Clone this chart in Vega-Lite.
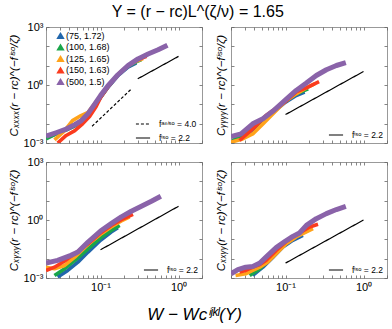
{
"$schema": "https://vega.github.io/schema/vega-lite/v6.json",
"background": "white",
"padding": {"left": 7, "right": 1, "top": 3, "bottom": 2},
"title": {"text": "Y = (r − rᴄ)L^(ζ/ν) = 1.65", "fontSize": 16, "fontWeight": "normal", "font": "Liberation Sans", "anchor": "middle", "frame": "bounds", "offset": 1, "color": "black"},
"datasets": {
"curves": [
{"p":"xxxx","s":"(75, 1.72)","x":0.02,"y":0.00182},{"p":"xxxx","s":"(75, 1.72)","x":0.0269,"y":0.00295},{"p":"xxxx","s":"(75, 1.72)","x":0.0363,"y":0.00479},{"p":"xxxx","s":"(75, 1.72)","x":0.0468,"y":0.00776},{"p":"xxxx","s":"(75, 1.72)","x":0.0589,"y":0.01445},{"p":"xxxx","s":"(75, 1.72)","x":0.0759,"y":0.0427},{"p":"xxxx","s":"(75, 1.72)","x":0.1,"y":0.224},{"p":"xxxx","s":"(75, 1.72)","x":0.124,"y":0.741},{"p":"xxxx","s":"(75, 1.72)","x":0.167,"y":3.09},{"p":"xxxx","s":"(75, 1.72)","x":0.225,"y":8.51},{"p":"xxxx","s":"(75, 1.72)","x":0.288,"y":14.1},
{"p":"xxxx","s":"(100, 1.68)","x":0.02,"y":0.00162},{"p":"xxxx","s":"(100, 1.68)","x":0.0269,"y":0.00295},{"p":"xxxx","s":"(100, 1.68)","x":0.0363,"y":0.00479},{"p":"xxxx","s":"(100, 1.68)","x":0.0468,"y":0.00794},{"p":"xxxx","s":"(100, 1.68)","x":0.0589,"y":0.01585},{"p":"xxxx","s":"(100, 1.68)","x":0.0759,"y":0.0437},{"p":"xxxx","s":"(100, 1.68)","x":0.1,"y":0.234},{"p":"xxxx","s":"(100, 1.68)","x":0.124,"y":0.776},{"p":"xxxx","s":"(100, 1.68)","x":0.167,"y":3.39},{"p":"xxxx","s":"(100, 1.68)","x":0.225,"y":9.12},{"p":"xxxx","s":"(100, 1.68)","x":0.302,"y":17.4},{"p":"xxxx","s":"(100, 1.68)","x":0.334,"y":20.4},
{"p":"xxxx","s":"(125, 1.65)","x":0.0257,"y":0.00145},{"p":"xxxx","s":"(125, 1.65)","x":0.0347,"y":0.00437},{"p":"xxxx","s":"(125, 1.65)","x":0.0437,"y":0.01445},{"p":"xxxx","s":"(125, 1.65)","x":0.0562,"y":0.0263},{"p":"xxxx","s":"(125, 1.65)","x":0.0692,"y":0.0389},{"p":"xxxx","s":"(125, 1.65)","x":0.0838,"y":0.1047},{"p":"xxxx","s":"(125, 1.65)","x":0.1,"y":0.257},{"p":"xxxx","s":"(125, 1.65)","x":0.124,"y":0.851},{"p":"xxxx","s":"(125, 1.65)","x":0.167,"y":3.47},{"p":"xxxx","s":"(125, 1.65)","x":0.225,"y":10.2},{"p":"xxxx","s":"(125, 1.65)","x":0.302,"y":18.6},{"p":"xxxx","s":"(125, 1.65)","x":0.351,"y":23.4},
{"p":"xxxx","s":"(150, 1.63)","x":0.0282,"y":0.001},{"p":"xxxx","s":"(150, 1.63)","x":0.0363,"y":0.00245},{"p":"xxxx","s":"(150, 1.63)","x":0.0468,"y":0.00437},{"p":"xxxx","s":"(150, 1.63)","x":0.0589,"y":0.00977},{"p":"xxxx","s":"(150, 1.63)","x":0.0724,"y":0.0234},{"p":"xxxx","s":"(150, 1.63)","x":0.0879,"y":0.0776},{"p":"xxxx","s":"(150, 1.63)","x":0.1,"y":0.219},{"p":"xxxx","s":"(150, 1.63)","x":0.124,"y":0.776},{"p":"xxxx","s":"(150, 1.63)","x":0.167,"y":3.47},{"p":"xxxx","s":"(150, 1.63)","x":0.225,"y":10.2},{"p":"xxxx","s":"(150, 1.63)","x":0.302,"y":20.4},{"p":"xxxx","s":"(150, 1.63)","x":0.389,"y":30.2},
{"p":"xxxx","s":"(500, 1.5)","x":0.02,"y":0.00224},{"p":"xxxx","s":"(500, 1.5)","x":0.0269,"y":0.00339},{"p":"xxxx","s":"(500, 1.5)","x":0.0363,"y":0.00525},{"p":"xxxx","s":"(500, 1.5)","x":0.0468,"y":0.00891},{"p":"xxxx","s":"(500, 1.5)","x":0.0569,"y":0.01445},{"p":"xxxx","s":"(500, 1.5)","x":0.0692,"y":0.0331},{"p":"xxxx","s":"(500, 1.5)","x":0.0838,"y":0.1},{"p":"xxxx","s":"(500, 1.5)","x":0.1,"y":0.282},{"p":"xxxx","s":"(500, 1.5)","x":0.124,"y":0.891},{"p":"xxxx","s":"(500, 1.5)","x":0.167,"y":3.39},{"p":"xxxx","s":"(500, 1.5)","x":0.225,"y":10},{"p":"xxxx","s":"(500, 1.5)","x":0.302,"y":22.4},{"p":"xxxx","s":"(500, 1.5)","x":0.407,"y":39.8},{"p":"xxxx","s":"(500, 1.5)","x":0.547,"y":66.1},{"p":"xxxx","s":"(500, 1.5)","x":0.721,"y":115},

{"p":"yyyy","s":"(75, 1.72)","x":0.0209,"y":0.00123},{"p":"yyyy","s":"(75, 1.72)","x":0.0309,"y":0.0024},{"p":"yyyy","s":"(75, 1.72)","x":0.0468,"y":0.0105},{"p":"yyyy","s":"(75, 1.72)","x":0.0692,"y":0.0389},{"p":"yyyy","s":"(75, 1.72)","x":0.1,"y":0.129},{"p":"yyyy","s":"(75, 1.72)","x":0.137,"y":0.288},{"p":"yyyy","s":"(75, 1.72)","x":0.176,"y":0.427},
{"p":"yyyy","s":"(100, 1.68)","x":0.0209,"y":0.00132},{"p":"yyyy","s":"(100, 1.68)","x":0.0309,"y":0.00295},{"p":"yyyy","s":"(100, 1.68)","x":0.0468,"y":0.012},{"p":"yyyy","s":"(100, 1.68)","x":0.0692,"y":0.0447},{"p":"yyyy","s":"(100, 1.68)","x":0.1,"y":0.145},{"p":"yyyy","s":"(100, 1.68)","x":0.137,"y":0.347},{"p":"yyyy","s":"(100, 1.68)","x":0.195,"y":0.631},
{"p":"yyyy","s":"(125, 1.65)","x":0.02,"y":0.0011},{"p":"yyyy","s":"(125, 1.65)","x":0.0282,"y":0.00162},{"p":"yyyy","s":"(125, 1.65)","x":0.038,"y":0.00295},{"p":"yyyy","s":"(125, 1.65)","x":0.0513,"y":0.00977},{"p":"yyyy","s":"(125, 1.65)","x":0.0692,"y":0.0324},{"p":"yyyy","s":"(125, 1.65)","x":0.1,"y":0.145},{"p":"yyyy","s":"(125, 1.65)","x":0.137,"y":0.347},{"p":"yyyy","s":"(125, 1.65)","x":0.185,"y":0.708},{"p":"yyyy","s":"(125, 1.65)","x":0.236,"y":1.15},
{"p":"yyyy","s":"(150, 1.63)","x":0.0257,"y":0.00135},{"p":"yyyy","s":"(150, 1.63)","x":0.038,"y":0.00537},{"p":"yyyy","s":"(150, 1.63)","x":0.0562,"y":0.0263},{"p":"yyyy","s":"(150, 1.63)","x":0.0759,"y":0.0631},{"p":"yyyy","s":"(150, 1.63)","x":0.1,"y":0.141},{"p":"yyyy","s":"(150, 1.63)","x":0.137,"y":0.437},{"p":"yyyy","s":"(150, 1.63)","x":0.185,"y":0.708},{"p":"yyyy","s":"(150, 1.63)","x":0.269,"y":1.48},
{"p":"yyyy","s":"(500, 1.5)","x":0.02,"y":0.00214},{"p":"yyyy","s":"(500, 1.5)","x":0.0269,"y":0.00295},{"p":"yyyy","s":"(500, 1.5)","x":0.038,"y":0.00977},{"p":"yyyy","s":"(500, 1.5)","x":0.0513,"y":0.0178},{"p":"yyyy","s":"(500, 1.5)","x":0.0692,"y":0.0447},{"p":"yyyy","s":"(500, 1.5)","x":0.1,"y":0.17},{"p":"yyyy","s":"(500, 1.5)","x":0.137,"y":0.525},{"p":"yyyy","s":"(500, 1.5)","x":0.185,"y":1.26},{"p":"yyyy","s":"(500, 1.5)","x":0.248,"y":3.09},{"p":"yyyy","s":"(500, 1.5)","x":0.334,"y":6.17},{"p":"yyyy","s":"(500, 1.5)","x":0.449,"y":10.2},{"p":"yyyy","s":"(500, 1.5)","x":0.593,"y":14.5},

{"p":"xyxy","s":"(75, 1.72)","x":0.0282,"y":0.00112},{"p":"xyxy","s":"(75, 1.72)","x":0.038,"y":0.00245},{"p":"xyxy","s":"(75, 1.72)","x":0.0513,"y":0.00661},{"p":"xyxy","s":"(75, 1.72)","x":0.0692,"y":0.0219},{"p":"xyxy","s":"(75, 1.72)","x":0.1,"y":0.0891},{"p":"xyxy","s":"(75, 1.72)","x":0.137,"y":0.24},{"p":"xyxy","s":"(75, 1.72)","x":0.167,"y":0.398},
{"p":"xyxy","s":"(100, 1.68)","x":0.0257,"y":0.00135},{"p":"xyxy","s":"(100, 1.68)","x":0.0347,"y":0.00302},{"p":"xyxy","s":"(100, 1.68)","x":0.0468,"y":0.00813},{"p":"xyxy","s":"(100, 1.68)","x":0.0692,"y":0.0324},{"p":"xyxy","s":"(100, 1.68)","x":0.1,"y":0.12},{"p":"xyxy","s":"(100, 1.68)","x":0.137,"y":0.288},{"p":"xyxy","s":"(100, 1.68)","x":0.176,"y":0.525},
{"p":"xyxy","s":"(125, 1.65)","x":0.02,"y":0.00363},{"p":"xyxy","s":"(125, 1.65)","x":0.0257,"y":0.00302},{"p":"xyxy","s":"(125, 1.65)","x":0.0347,"y":0.00447},{"p":"xyxy","s":"(125, 1.65)","x":0.0468,"y":0.012},{"p":"xyxy","s":"(125, 1.65)","x":0.0692,"y":0.055},{"p":"xyxy","s":"(125, 1.65)","x":0.1,"y":0.182},{"p":"xyxy","s":"(125, 1.65)","x":0.137,"y":0.437},{"p":"xyxy","s":"(125, 1.65)","x":0.185,"y":0.891},{"p":"xyxy","s":"(125, 1.65)","x":0.236,"y":1.45},
{"p":"xyxy","s":"(150, 1.63)","x":0.02,"y":0.00245},{"p":"xyxy","s":"(150, 1.63)","x":0.0257,"y":0.00363},{"p":"xyxy","s":"(150, 1.63)","x":0.0347,"y":0.00759},{"p":"xyxy","s":"(150, 1.63)","x":0.0468,"y":0.0182},{"p":"xyxy","s":"(150, 1.63)","x":0.0692,"y":0.0589},{"p":"xyxy","s":"(150, 1.63)","x":0.1,"y":0.214},{"p":"xyxy","s":"(150, 1.63)","x":0.137,"y":0.525},{"p":"xyxy","s":"(150, 1.63)","x":0.185,"y":1.047},{"p":"xyxy","s":"(150, 1.63)","x":0.261,"y":1.95},
{"p":"xyxy","s":"(500, 1.5)","x":0.02,"y":0.00589},{"p":"xyxy","s":"(500, 1.5)","x":0.0282,"y":0.00813},{"p":"xyxy","s":"(500, 1.5)","x":0.0417,"y":0.0148},{"p":"xyxy","s":"(500, 1.5)","x":0.0513,"y":0.0219},{"p":"xyxy","s":"(500, 1.5)","x":0.0692,"y":0.0724},{"p":"xyxy","s":"(500, 1.5)","x":0.1,"y":0.269},{"p":"xyxy","s":"(500, 1.5)","x":0.137,"y":0.646},{"p":"xyxy","s":"(500, 1.5)","x":0.185,"y":1.45},{"p":"xyxy","s":"(500, 1.5)","x":0.248,"y":2.82},{"p":"xyxy","s":"(500, 1.5)","x":0.334,"y":5.13},{"p":"xyxy","s":"(500, 1.5)","x":0.449,"y":9.33},{"p":"xyxy","s":"(500, 1.5)","x":0.593,"y":17},

{"p":"xxyy","s":"(75, 1.72)","x":0.038,"y":0.00135},{"p":"xxyy","s":"(75, 1.72)","x":0.0513,"y":0.00363},{"p":"xxyy","s":"(75, 1.72)","x":0.0692,"y":0.012},{"p":"xxyy","s":"(75, 1.72)","x":0.0925,"y":0.0398},{"p":"xxyy","s":"(75, 1.72)","x":0.124,"y":0.0891},{"p":"xxyy","s":"(75, 1.72)","x":0.167,"y":0.162},
{"p":"xxyy","s":"(100, 1.68)","x":0.0347,"y":0.00135},{"p":"xxyy","s":"(100, 1.68)","x":0.0468,"y":0.00302},{"p":"xxyy","s":"(100, 1.68)","x":0.0617,"y":0.01},{"p":"xxyy","s":"(100, 1.68)","x":0.0838,"y":0.0324},{"p":"xxyy","s":"(100, 1.68)","x":0.112,"y":0.0891},{"p":"xxyy","s":"(100, 1.68)","x":0.151,"y":0.182},{"p":"xxyy","s":"(100, 1.68)","x":0.195,"y":0.288},
{"p":"xxyy","s":"(125, 1.65)","x":0.0229,"y":0.00135},{"p":"xxyy","s":"(125, 1.65)","x":0.0309,"y":0.00166},{"p":"xxyy","s":"(125, 1.65)","x":0.038,"y":0.00245},{"p":"xxyy","s":"(125, 1.65)","x":0.0468,"y":0.00363},{"p":"xxyy","s":"(125, 1.65)","x":0.0589,"y":0.00661},{"p":"xxyy","s":"(125, 1.65)","x":0.0759,"y":0.0182},{"p":"xxyy","s":"(125, 1.65)","x":0.1,"y":0.055},{"p":"xxyy","s":"(125, 1.65)","x":0.137,"y":0.132},{"p":"xxyy","s":"(125, 1.65)","x":0.185,"y":0.24},{"p":"xxyy","s":"(125, 1.65)","x":0.225,"y":0.355},
{"p":"xxyy","s":"(150, 1.63)","x":0.0257,"y":0.00204},{"p":"xxyy","s":"(150, 1.63)","x":0.0309,"y":0.00245},{"p":"xxyy","s":"(150, 1.63)","x":0.038,"y":0.00363},{"p":"xxyy","s":"(150, 1.63)","x":0.0468,"y":0.00501},{"p":"xxyy","s":"(150, 1.63)","x":0.0562,"y":0.00813},{"p":"xxyy","s":"(150, 1.63)","x":0.0759,"y":0.0269},{"p":"xxyy","s":"(150, 1.63)","x":0.1,"y":0.0724},{"p":"xxyy","s":"(150, 1.63)","x":0.124,"y":0.132},{"p":"xxyy","s":"(150, 1.63)","x":0.167,"y":0.269},{"p":"xxyy","s":"(150, 1.63)","x":0.204,"y":0.437},{"p":"xxyy","s":"(150, 1.63)","x":0.261,"y":0.603},
{"p":"xxyy","s":"(500, 1.5)","x":0.02,"y":0.00166},{"p":"xxyy","s":"(500, 1.5)","x":0.0245,"y":0.00269},{"p":"xxyy","s":"(500, 1.5)","x":0.0309,"y":0.00363},{"p":"xxyy","s":"(500, 1.5)","x":0.038,"y":0.00398},{"p":"xxyy","s":"(500, 1.5)","x":0.0468,"y":0.00589},{"p":"xxyy","s":"(500, 1.5)","x":0.0562,"y":0.012},{"p":"xxyy","s":"(500, 1.5)","x":0.0759,"y":0.0372},{"p":"xxyy","s":"(500, 1.5)","x":0.1,"y":0.0813},{"p":"xxyy","s":"(500, 1.5)","x":0.124,"y":0.141},{"p":"xxyy","s":"(500, 1.5)","x":0.151,"y":0.214},{"p":"xxyy","s":"(500, 1.5)","x":0.185,"y":0.525},{"p":"xxyy","s":"(500, 1.5)","x":0.248,"y":1.175},{"p":"xxyy","s":"(500, 1.5)","x":0.334,"y":2.14},{"p":"xxyy","s":"(500, 1.5)","x":0.449,"y":3.47},{"p":"xxyy","s":"(500, 1.5)","x":0.593,"y":5.13}
],
"refs": [
{"p":"xxxx","f":"fᵃⁿⁱˢᵒ = 4.0","x":0.078,"y":0.0074},{"p":"xxxx","f":"fᵃⁿⁱˢᵒ = 4.0","x":0.25,"y":0.635},
{"p":"xxxx","f":"fⁱˢᵒ = 2.2","x":0.3,"y":2.09},{"p":"xxxx","f":"fⁱˢᵒ = 2.2","x":1.0,"y":30.2},
{"p":"yyyy","f":"fⁱˢᵒ = 2.2","x":0.1,"y":0.0295},{"p":"yyyy","f":"fⁱˢᵒ = 2.2","x":1.0,"y":5.0},
{"p":"xyxy","f":"fⁱˢᵒ = 2.2","x":0.1,"y":0.0288},{"p":"xyxy","f":"fⁱˢᵒ = 2.2","x":1.0,"y":5.13},
{"p":"xxyy","f":"fⁱˢᵒ = 2.2","x":0.1,"y":0.0059},{"p":"xxyy","f":"fⁱˢᵒ = 2.2","x":1.0,"y":1.0}
]
},
"columns": 2,
"spacing": {"row": 19, "column": 29},
"bounds": "flush",
"resolve": {"scale": {"color": "independent", "strokeDash": "independent"}},
"concat": [
{
"width": 156, "height": 116,
"resolve": {"axis": {"x": "independent", "y": "independent"}},
"layer": [
{"data": {"name": "curves"}, "transform": [{"filter": "datum.p == 'xxxx' && datum.s != '(500, 1.5)'"}],
 "mark": {"type": "line", "clip": true, "strokeJoin": "round", "strokeWidth": 3.6},
 "encoding": {
  "x": {"field": "x", "type": "quantitative", "scale": {"type": "log", "domain": [0.02, 2], "nice": false}, "axis": {"values": [0.02,0.03,0.04,0.05,0.06,0.07,0.08,0.09,0.1,0.2,0.3,0.4,0.5,0.6,0.7,0.8,0.9,1,2], "labels": false, "title": null}},
  "y": {"field": "y", "type": "quantitative", "scale": {"type": "log", "domain": [0.001, 1000], "nice": false}, "axis": {"values": [0.001,0.01,0.1,1,10,100,1000], "labelExpr": "datum.value == 1000 ? '10³' : datum.value == 1 ? '10⁰' : datum.value == 0.001 ? '10⁻³' : ''", "title": "Cₓₓₓₓ(r − rᴄ)^(−fⁱˢᵒ/ζ)"}},
  "color": {"field": "s", "type": "nominal", "scale": {"domain": ["(75, 1.72)","(100, 1.68)","(125, 1.65)","(150, 1.63)","(500, 1.5)"], "range": ["#2166ac","#1aa64a","#ffa31a","#fb3b1e","#8a63a9"]},
   "legend": {"orient": "none", "legendX": 10, "legendY": 4, "title": null, "symbolType": "triangle-up", "symbolSize": 70, "symbolStrokeWidth": 0, "labelFontSize": 9, "labelFont": "Liberation Sans", "rowPadding": 1.5, "labelOffset": 1, "padding": 0,
    "encode": {"symbols": {"update": {"fill": {"signal": "datum.value === '(75, 1.72)' ? '#2166ac' : datum.value === '(100, 1.68)' ? '#1aa64a' : datum.value === '(125, 1.65)' ? '#ffa31a' : datum.value === '(150, 1.63)' ? '#fb3b1e' : '#8a63a9'"}, "fillOpacity": {"value": 1}, "opacity": {"value": 1}}}}}}
 }},
{"data": {"name": "curves"}, "transform": [{"filter": "datum.p == 'xxxx' && datum.s == '(500, 1.5)'"}],
 "mark": {"type": "line", "clip": true, "strokeJoin": "round", "strokeWidth": 5},
 "encoding": {
  "x": {"field": "x", "type": "quantitative", "axis": null},
  "y": {"field": "y", "type": "quantitative", "axis": null},
  "color": {"field": "s", "type": "nominal"}
 }},
{"data": {"name": "refs"}, "transform": [{"filter": "datum.p == 'xxxx'"}],
 "mark": {"type": "line", "color": "black", "strokeWidth": 1.2, "clip": true},
 "encoding": {
  "x": {"field": "x", "type": "quantitative", "axis": {"orient": "top", "values": [0.02,0.03,0.04,0.05,0.06,0.07,0.08,0.09,0.1,0.2,0.3,0.4,0.5,0.6,0.7,0.8,0.9,1,2], "labels": false, "title": null}},
  "y": {"field": "y", "type": "quantitative", "axis": {"orient": "right", "values": [0.001,0.01,0.1,1,10,100,1000], "labels": false, "title": null}},
  "strokeDash": {"field": "f", "type": "nominal", "scale": {"domain": ["fᵃⁿⁱˢᵒ = 4.0", "fⁱˢᵒ = 2.2"], "range": [[3,2],[1,0]]},
   "legend": {"orient": "none", "legendX": 89, "legendY": 89, "title": null, "symbolType": "stroke", "symbolSize": 200, "symbolStrokeWidth": 1.2, "symbolStrokeColor": "black", "labelFontSize": 8.5, "labelFont": "Liberation Sans", "rowPadding": 1, "labelOffset": 8, "padding": 0}}
 }}
]
},
{
"width": 156, "height": 116,
"resolve": {"axis": {"x": "independent", "y": "independent"}},
"layer": [
{"data": {"name": "curves"}, "transform": [{"filter": "datum.p == 'yyyy' && datum.s != '(500, 1.5)'"}],
 "mark": {"type": "line", "clip": true, "strokeJoin": "round", "strokeWidth": 3.6},
 "encoding": {
  "x": {"field": "x", "type": "quantitative", "scale": {"type": "log", "domain": [0.02, 2], "nice": false}, "axis": {"values": [0.02,0.03,0.04,0.05,0.06,0.07,0.08,0.09,0.1,0.2,0.3,0.4,0.5,0.6,0.7,0.8,0.9,1,2], "labels": false, "title": null}},
  "y": {"field": "y", "type": "quantitative", "scale": {"type": "log", "domain": [0.001, 1000], "nice": false}, "axis": {"values": [0.001,0.01,0.1,1,10,100,1000], "labels": false, "title": "Cᵧᵧᵧᵧ(r − rᴄ)^(−fⁱˢᵒ/ζ)"}},
  "color": {"field": "s", "type": "nominal", "scale": {"domain": ["(75, 1.72)","(100, 1.68)","(125, 1.65)","(150, 1.63)","(500, 1.5)"], "range": ["#2166ac","#1aa64a","#ffa31a","#fb3b1e","#8a63a9"]}, "legend": null}
 }},
{"data": {"name": "curves"}, "transform": [{"filter": "datum.p == 'yyyy' && datum.s == '(500, 1.5)'"}],
 "mark": {"type": "line", "clip": true, "strokeJoin": "round", "strokeWidth": 5},
 "encoding": {
  "x": {"field": "x", "type": "quantitative", "axis": null},
  "y": {"field": "y", "type": "quantitative", "axis": null},
  "color": {"field": "s", "type": "nominal", "legend": null}
 }},
{"data": {"name": "refs"}, "transform": [{"filter": "datum.p == 'yyyy'"}],
 "mark": {"type": "line", "color": "black", "strokeWidth": 1.2, "clip": true},
 "encoding": {
  "x": {"field": "x", "type": "quantitative", "axis": {"orient": "top", "values": [0.02,0.03,0.04,0.05,0.06,0.07,0.08,0.09,0.1,0.2,0.3,0.4,0.5,0.6,0.7,0.8,0.9,1,2], "labels": false, "title": null}},
  "y": {"field": "y", "type": "quantitative", "axis": {"orient": "right", "values": [0.001,0.01,0.1,1,10,100,1000], "labels": false, "title": null}},
  "strokeDash": {"field": "f", "type": "nominal", "scale": {"domain": ["fⁱˢᵒ = 2.2"], "range": [[1,0]]},
   "legend": {"orient": "none", "legendX": 97, "legendY": 100, "title": null, "symbolType": "stroke", "symbolSize": 200, "symbolStrokeWidth": 1.2, "symbolStrokeColor": "black", "labelFontSize": 8.5, "labelFont": "Liberation Sans", "labelOffset": 8, "padding": 0}}
 }}
]
},
{
"width": 156, "height": 116,
"resolve": {"axis": {"x": "independent", "y": "independent"}},
"layer": [
{"data": {"name": "curves"}, "transform": [{"filter": "datum.p == 'xyxy' && datum.s != '(500, 1.5)'"}],
 "mark": {"type": "line", "clip": true, "strokeJoin": "round", "strokeWidth": 3.6},
 "encoding": {
  "x": {"field": "x", "type": "quantitative", "scale": {"type": "log", "domain": [0.02, 2], "nice": false}, "axis": {"values": [0.02,0.03,0.04,0.05,0.06,0.07,0.08,0.09,0.1,0.2,0.3,0.4,0.5,0.6,0.7,0.8,0.9,1,2], "labelExpr": "datum.value == 0.1 ? '10⁻¹' : datum.value == 1 ? '10⁰' : ''", "title": "W − Wᴄⁱʲᵏˡ(Y)", "titleX": 148, "titleY": 28, "titleAlign": "center", "titleBaseline": "top", "titleFontSize": 17, "titleFontStyle": "italic"}},
  "y": {"field": "y", "type": "quantitative", "scale": {"type": "log", "domain": [0.001, 1000], "nice": false}, "axis": {"values": [0.001,0.01,0.1,1,10,100,1000], "labelExpr": "datum.value == 1000 ? '10³' : datum.value == 1 ? '10⁰' : datum.value == 0.001 ? '10⁻³' : ''", "title": "Cₓᵧₓᵧ(r − rᴄ)^(−fⁱˢᵒ/ζ)"}},
  "color": {"field": "s", "type": "nominal", "scale": {"domain": ["(75, 1.72)","(100, 1.68)","(125, 1.65)","(150, 1.63)","(500, 1.5)"], "range": ["#2166ac","#1aa64a","#ffa31a","#fb3b1e","#8a63a9"]}, "legend": null}
 }},
{"data": {"name": "curves"}, "transform": [{"filter": "datum.p == 'xyxy' && datum.s == '(500, 1.5)'"}],
 "mark": {"type": "line", "clip": true, "strokeJoin": "round", "strokeWidth": 5},
 "encoding": {
  "x": {"field": "x", "type": "quantitative", "axis": null},
  "y": {"field": "y", "type": "quantitative", "axis": null},
  "color": {"field": "s", "type": "nominal", "legend": null}
 }},
{"data": {"name": "refs"}, "transform": [{"filter": "datum.p == 'xyxy'"}],
 "mark": {"type": "line", "color": "black", "strokeWidth": 1.2, "clip": true},
 "encoding": {
  "x": {"field": "x", "type": "quantitative", "axis": {"orient": "top", "values": [0.02,0.03,0.04,0.05,0.06,0.07,0.08,0.09,0.1,0.2,0.3,0.4,0.5,0.6,0.7,0.8,0.9,1,2], "labels": false, "title": null}},
  "y": {"field": "y", "type": "quantitative", "axis": {"orient": "right", "values": [0.001,0.01,0.1,1,10,100,1000], "labels": false, "title": null}},
  "strokeDash": {"field": "f", "type": "nominal", "scale": {"domain": ["fⁱˢᵒ = 2.2"], "range": [[1,0]]},
   "legend": {"orient": "none", "legendX": 97, "legendY": 100, "title": null, "symbolType": "stroke", "symbolSize": 200, "symbolStrokeWidth": 1.2, "symbolStrokeColor": "black", "labelFontSize": 8.5, "labelFont": "Liberation Sans", "labelOffset": 8, "padding": 0}}
 }}
]
},
{
"width": 156, "height": 116,
"resolve": {"axis": {"x": "independent", "y": "independent"}},
"layer": [
{"data": {"name": "curves"}, "transform": [{"filter": "datum.p == 'xxyy' && datum.s != '(500, 1.5)'"}],
 "mark": {"type": "line", "clip": true, "strokeJoin": "round", "strokeWidth": 3.6},
 "encoding": {
  "x": {"field": "x", "type": "quantitative", "scale": {"type": "log", "domain": [0.02, 2], "nice": false}, "axis": {"values": [0.02,0.03,0.04,0.05,0.06,0.07,0.08,0.09,0.1,0.2,0.3,0.4,0.5,0.6,0.7,0.8,0.9,1,2], "labelExpr": "datum.value == 0.1 ? '10⁻¹' : datum.value == 1 ? '10⁰' : ''", "title": null}},
  "y": {"field": "y", "type": "quantitative", "scale": {"type": "log", "domain": [0.001, 1000], "nice": false}, "axis": {"values": [0.001,0.01,0.1,1,10,100,1000], "labels": false, "title": "Cₓₓᵧᵧ(r − rᴄ)^(−fⁱˢᵒ/ζ)"}},
  "color": {"field": "s", "type": "nominal", "scale": {"domain": ["(75, 1.72)","(100, 1.68)","(125, 1.65)","(150, 1.63)","(500, 1.5)"], "range": ["#2166ac","#1aa64a","#ffa31a","#fb3b1e","#8a63a9"]}, "legend": null}
 }},
{"data": {"name": "curves"}, "transform": [{"filter": "datum.p == 'xxyy' && datum.s == '(500, 1.5)'"}],
 "mark": {"type": "line", "clip": true, "strokeJoin": "round", "strokeWidth": 5},
 "encoding": {
  "x": {"field": "x", "type": "quantitative", "axis": null},
  "y": {"field": "y", "type": "quantitative", "axis": null},
  "color": {"field": "s", "type": "nominal", "legend": null}
 }},
{"data": {"name": "refs"}, "transform": [{"filter": "datum.p == 'xxyy'"}],
 "mark": {"type": "line", "color": "black", "strokeWidth": 1.2, "clip": true},
 "encoding": {
  "x": {"field": "x", "type": "quantitative", "axis": {"orient": "top", "values": [0.02,0.03,0.04,0.05,0.06,0.07,0.08,0.09,0.1,0.2,0.3,0.4,0.5,0.6,0.7,0.8,0.9,1,2], "labels": false, "title": null}},
  "y": {"field": "y", "type": "quantitative", "axis": {"orient": "right", "values": [0.001,0.01,0.1,1,10,100,1000], "labels": false, "title": null}},
  "strokeDash": {"field": "f", "type": "nominal", "scale": {"domain": ["fⁱˢᵒ = 2.2"], "range": [[1,0]]},
   "legend": {"orient": "none", "legendX": 97, "legendY": 100, "title": null, "symbolType": "stroke", "symbolSize": 200, "symbolStrokeWidth": 1.2, "symbolStrokeColor": "black", "labelFontSize": 8.5, "labelFont": "Liberation Sans", "labelOffset": 8, "padding": 0}}
 }}
]
}
],
"config": {
 "font": "Liberation Sans",
 "view": {"stroke": "#999999", "strokeWidth": 1},
 "axis": {"domain": false, "grid": false, "tickSize": -3, "tickColor": "#666666", "tickWidth": 0.8, "labelFontSize": 11, "labelColor": "black", "labelPadding": 6, "labelFlush": false, "labelOverlap": false, "labelFont": "Liberation Sans", "titleFont": "Liberation Sans", "titleFontSize": 11.5, "titleFontWeight": "normal", "titleFontStyle": "italic", "titleColor": "black", "titlePadding": 4},
 "legend": {"labelColor": "black"}
}
}
